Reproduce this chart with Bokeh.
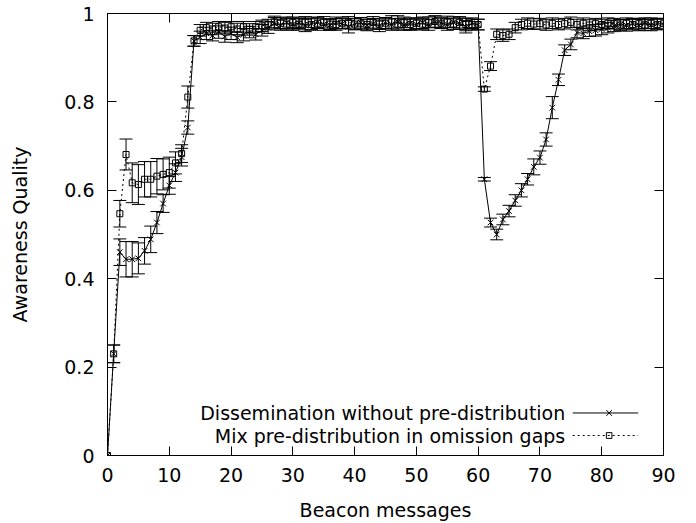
from bokeh.plotting import figure
from bokeh.models import (ColumnDataSource, Whisker, TeeHead, LinearAxis, FixedTicker,
                          Label, Arrow, BoxAnnotation, Range1d, CustomJSTickFormatter)
from bokeh.embed import file_html
from bokeh.resources import INLINE

# ---------------- data ----------------
beacons = list(range(91))

dissem = [
    0.000, 0.230, 0.460, 0.444, 0.444, 0.446, 0.463, 0.489, 0.527, 0.570,
    0.611, 0.640, 0.675, 0.742, 0.938, 0.946, 0.955, 0.950, 0.958, 0.948,
    0.955, 0.946, 0.952, 0.958, 0.953, 0.962, 0.968, 0.978, 0.974, 0.979,
    0.975, 0.978, 0.973, 0.977, 0.980, 0.975, 0.974, 0.979, 0.977, 0.970,
    0.976, 0.979, 0.974, 0.977, 0.972, 0.978, 0.975, 0.981, 0.974, 0.977,
    0.975, 0.979, 0.974, 0.981, 0.978, 0.975, 0.980, 0.977, 0.970, 0.978,
    0.975, 0.625, 0.527, 0.500, 0.534, 0.553, 0.577, 0.600, 0.625, 0.653,
    0.674, 0.715, 0.787, 0.850, 0.917, 0.930, 0.957, 0.955, 0.960, 0.962,
    0.965, 0.968, 0.972, 0.975, 0.973, 0.977, 0.974, 0.978, 0.974, 0.977, 0.976]

dissem_err = [
    0.000, 0.020, 0.030, 0.040, 0.040, 0.035, 0.030, 0.030, 0.025, 0.020,
    0.020, 0.020, 0.020, 0.015, 0.012, 0.014, 0.014, 0.012, 0.014, 0.013,
    0.014, 0.012, 0.014, 0.013, 0.013, 0.013, 0.013, 0.013, 0.012, 0.013,
    0.013, 0.012, 0.014, 0.013, 0.012, 0.013, 0.012, 0.013, 0.012, 0.014,
    0.013, 0.012, 0.013, 0.012, 0.013, 0.012, 0.013, 0.014, 0.012, 0.013,
    0.012, 0.013, 0.012, 0.013, 0.012, 0.013, 0.012, 0.013, 0.014, 0.012,
    0.012, 0.004, 0.010, 0.012, 0.012, 0.013, 0.013, 0.015, 0.013, 0.018,
    0.015, 0.015, 0.025, 0.013, 0.012, 0.012, 0.012, 0.012, 0.012, 0.013,
    0.013, 0.012, 0.013, 0.012, 0.013, 0.012, 0.013, 0.012, 0.013, 0.012, 0.012]

mixed = [
    0.000, 0.230, 0.547, 0.681, 0.617, 0.613, 0.625, 0.625, 0.632, 0.636,
    0.640, 0.662, 0.683, 0.811, 0.938, 0.962, 0.968, 0.965, 0.970, 0.967,
    0.970, 0.965, 0.970, 0.964, 0.970, 0.972, 0.975, 0.981, 0.978, 0.976,
    0.980, 0.976, 0.981, 0.975, 0.978, 0.980, 0.976, 0.975, 0.978, 0.980,
    0.976, 0.978, 0.975, 0.980, 0.976, 0.978, 0.981, 0.976, 0.980, 0.975,
    0.978, 0.976, 0.980, 0.982, 0.978, 0.981, 0.976, 0.980, 0.975, 0.975,
    0.975, 0.829, 0.881, 0.953, 0.950, 0.953, 0.968, 0.975, 0.978, 0.976,
    0.977, 0.974, 0.978, 0.975, 0.977, 0.980, 0.975, 0.978, 0.974, 0.977,
    0.975, 0.978, 0.977, 0.974, 0.978, 0.975, 0.977, 0.974, 0.978, 0.975, 0.977]

mixed_err = [
    0.000, 0.020, 0.030, 0.035, 0.045, 0.045, 0.040, 0.040, 0.040, 0.035,
    0.035, 0.025, 0.020, 0.025, 0.012, 0.013, 0.012, 0.013, 0.012, 0.013,
    0.012, 0.013, 0.012, 0.013, 0.012, 0.013, 0.012, 0.013, 0.012, 0.013,
    0.012, 0.013, 0.012, 0.013, 0.012, 0.013, 0.012, 0.013, 0.012, 0.013,
    0.012, 0.013, 0.012, 0.013, 0.012, 0.013, 0.014, 0.013, 0.012, 0.013,
    0.012, 0.013, 0.012, 0.013, 0.012, 0.013, 0.012, 0.013, 0.014, 0.012,
    0.012, 0.005, 0.010, 0.012, 0.013, 0.012, 0.012, 0.012, 0.012, 0.012,
    0.012, 0.012, 0.012, 0.012, 0.012, 0.012, 0.012, 0.012, 0.012, 0.012,
    0.012, 0.012, 0.012, 0.012, 0.012, 0.012, 0.012, 0.012, 0.012, 0.012, 0.012]

x_ticks = [0, 10, 20, 30, 40, 50, 60, 70, 80, 90]
y_ticks = [0, 0.2, 0.4, 0.6, 0.8, 1]

label_dissem = "Dissemination without pre-distribution"
label_mixed = "Mix pre-distribution in omission gaps"

FONT = "DejaVu Sans"
FS = "19px"

src = ColumnDataSource(dict(
    x=beacons,
    s=dissem,
    s_lo=[v - e for v, e in zip(dissem, dissem_err)],
    s_hi=[v + e for v, e in zip(dissem, dissem_err)],
    d=mixed,
    d_lo=[v - e for v, e in zip(mixed, mixed_err)],
    d_hi=[v + e for v, e in zip(mixed, mixed_err)],
))

p = figure(width=696, height=523, x_range=Range1d(0, 90), y_range=Range1d(0, 1),
           output_backend="svg", toolbar_location=None,
           min_border_left=107, min_border_right=33, min_border_top=13,
           min_border_bottom=68)
p.grid.visible = False
p.outline_line_color = "black"
p.outline_line_width = 1
p.background_fill_color = "white"
p.border_fill_color = "white"


def style_axis(ax, ticks, show_labels):
    ax.ticker = FixedTicker(ticks=ticks)
    ax.major_tick_in = 9
    ax.major_tick_out = 0
    ax.minor_tick_in = 0
    ax.minor_tick_out = 0
    ax.axis_line_color = "black"
    ax.major_tick_line_color = "black"
    ax.major_label_text_font = FONT
    ax.major_label_text_color = "black"
    ax.axis_label_text_font = FONT
    ax.axis_label_text_font_size = FS
    ax.axis_label_text_font_style = "normal"
    ax.axis_label_text_color = "black"
    if show_labels:
        ax.major_label_text_font_size = FS
        ax.formatter = CustomJSTickFormatter(code="return tick.toString();")
    else:
        ax.major_label_text_font_size = "0px"
        ax.major_label_standoff = 0
        ax.formatter = CustomJSTickFormatter(code="return '';")


xa = p.xaxis[0]
style_axis(xa, x_ticks, True)
xa.axis_label = "Beacon messages"
xa.major_label_standoff = 12
xa.axis_label_standoff = 14

ya = p.yaxis[0]
style_axis(ya, y_ticks, True)
ya.axis_label = "Awareness Quality"
ya.major_label_standoff = 13
ya.axis_label_standoff = 30

top_ax = LinearAxis()
style_axis(top_ax, x_ticks, False)
p.add_layout(top_ax, "above")
right_ax = LinearAxis()
style_axis(right_ax, y_ticks, False)
p.add_layout(right_ax, "right")

# lines
p.line("x", "s", source=src, line_color="black", line_width=1)
p.line("x", "d", source=src, line_color="black", line_width=1, line_dash="2 3")

# error bars
for lo, hi in (("s_lo", "s_hi"), ("d_lo", "d_hi")):
    p.add_layout(Whisker(source=src, base="x", lower=lo, upper=hi, dimension="height",
                         line_color="black", line_width=1,
                         lower_head=TeeHead(size=13, line_color="black", line_width=1),
                         upper_head=TeeHead(size=13, line_color="black", line_width=1)))

# markers
p.scatter("x", "s", source=src, marker="x", size=8, line_color="black", line_width=1)
p.scatter("x", "d", source=src, marker="square", size=6, line_color="black",
          fill_color=None, line_width=1)

# legend (gnuplot style: text right-aligned, sample on the right)
row1_y, row2_y = 0.0962, 0.0452
text_x = 74.1
seg_x0, seg_x1, mark_x = 75.3, 85.9, 81.2
dx, dy = 0.45, 0.0065

p.add_layout(Label(x=text_x, y=row1_y, text=label_dissem, text_align="right",
                   text_baseline="middle", text_font=FONT, text_font_size=FS,
                   text_color="black"))
p.add_layout(Label(x=text_x, y=row2_y, text=label_mixed, text_align="right",
                   text_baseline="middle", text_font=FONT, text_font_size=FS,
                   text_color="black"))
p.add_layout(Arrow(x_start=seg_x0, y_start=row1_y, x_end=seg_x1, y_end=row1_y,
                   end=None, line_color="black", line_width=1))
p.add_layout(Arrow(x_start=seg_x0, y_start=row2_y, x_end=seg_x1, y_end=row2_y,
                   end=None, line_color="black", line_width=1, line_dash="2 3"))
p.add_layout(Arrow(x_start=mark_x - dx, y_start=row1_y - dy, x_end=mark_x + dx,
                   y_end=row1_y + dy, end=None, line_color="black", line_width=1))
p.add_layout(Arrow(x_start=mark_x - dx, y_start=row1_y + dy, x_end=mark_x + dx,
                   y_end=row1_y - dy, end=None, line_color="black", line_width=1))
p.add_layout(BoxAnnotation(left=mark_x - dx, right=mark_x + dx, bottom=row2_y - dy,
                           top=row2_y + dy, fill_color=None, line_color="black",
                           line_width=1, line_alpha=1))

open("out.html", "w").write(file_html(p, INLINE))
